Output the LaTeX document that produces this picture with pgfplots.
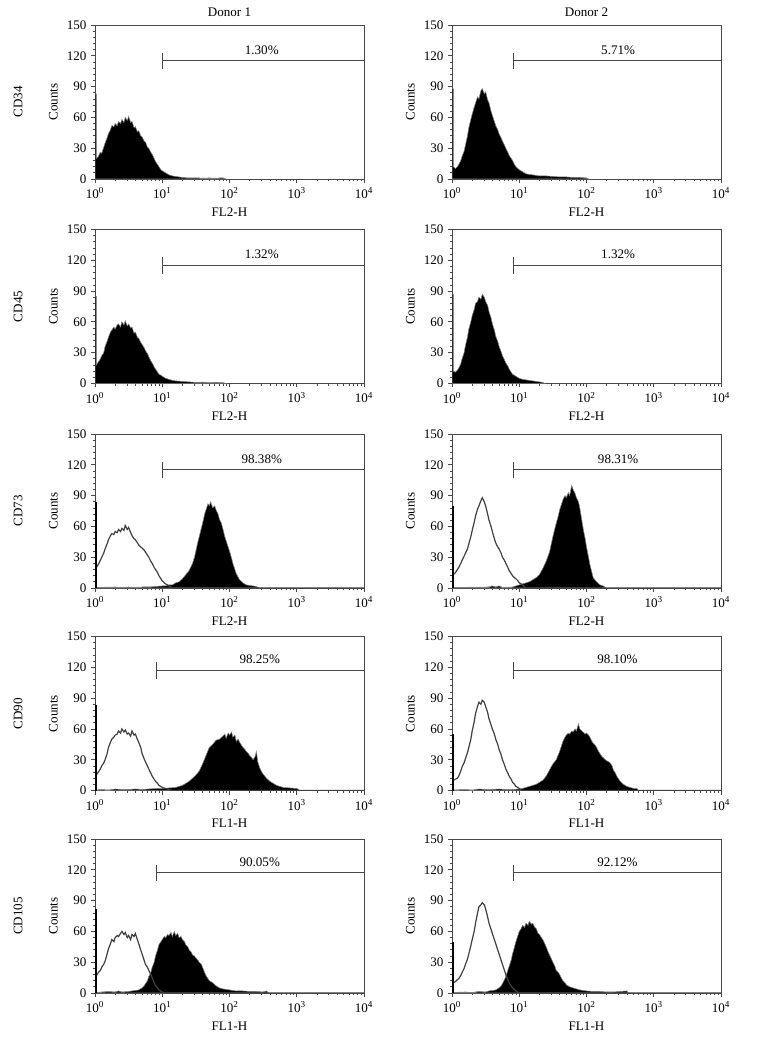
\documentclass[border=0pt]{standalone}
\usepackage{fontspec}
\setmainfont{Liberation Serif}
\usepackage{pgfplots}
\pgfplotsset{compat=1.18}

\definecolor{axisgray}{HTML}{474747}

\pgfplotsset{
  facs/.style={
    scale only axis, width=201.75pt, height=115.5pt,
    anchor=north west,
    clip mode=individual,
    xmin=0, xmax=4, ymin=0, ymax=150,
    xtick={0,1,2,3,4},
    xticklabels={10\textsuperscript{0},10\textsuperscript{1},10\textsuperscript{2},10\textsuperscript{3},10\textsuperscript{4}},
    minor xtick={0.301,0.477,0.602,0.699,0.778,0.845,0.903,0.954,
      1.301,1.477,1.602,1.699,1.778,1.845,1.903,1.954,
      2.301,2.477,2.602,2.699,2.778,2.845,2.903,2.954,
      3.301,3.477,3.602,3.699,3.778,3.845,3.903,3.954},
    ytick={0,30,60,90,120,150},
    minor y tick num=4,
    tick align=outside,
    tick pos=left,
    major tick length=3pt,
    minor tick length=1.8pt,
    every tick/.style={axisgray, line width=0.6pt},
    axis line style={axisgray, line width=0.7pt},
    ylabel=Counts,
    title style={yshift=-3pt},
    /pgf/number format/assume math mode=true,
  },
  hist/.style={fill=black, draw=gray, line width=0.4pt},
  iso/.style={draw=black!75, line width=0.9pt},
  spike/.style={draw=black, line width=1.3pt},
  gate/.style={draw=axisgray, line width=0.7pt},
}

\begin{document}
\fontsize{9.8}{11.5}\selectfont
\begin{tikzpicture}
\path (0,0) rectangle (567.75pt,-781.5pt);

% ---------- CD34 ----------
\begin{axis}[facs, at={(71.25pt,-18.75pt)}, title=Donor 1, xlabel=FL2-H]
\addplot[hist] coordinates {(0,0)(0,83)(0.02,83)(0.02,20)(0.05,22)(0.08,26)(0.1,25)(0.13,31)(0.15,35)(0.18,40)(0.2,44)(0.23,48)(0.25,52)(0.28,51)(0.3,54)(0.33,52)(0.35,56)(0.38,54)(0.4,58)(0.43,55)(0.45,60)(0.48,57)(0.5,61)(0.53,55)(0.55,56)(0.58,50)(0.6,51)(0.63,46)(0.65,47)(0.68,42)(0.7,41)(0.73,37)(0.75,36)(0.78,31)(0.8,30)(0.83,26)(0.85,24)(0.88,20)(0.9,17)(0.93,14)(0.95,12)(0.98,9)(1,8)(1.05,6)(1.1,4)(1.15,3)(1.2,2.5)(1.25,2)(1.3,1.5)(1.4,1)(1.5,1.2)(1.6,0.8)(1.7,1)(1.8,0.8)(1.9,1.2)(1.95,0)} \closedcycle;
\addplot[gate] coordinates {(1.01,115)(4,115)};
\addplot[gate] coordinates {(1.01,107)(1.01,123)};
\node[anchor=south] at (axis cs:2.48,117) {1.30\%};
\node[rotate=90] at (axis description cs:-0.286,0.5) {CD34};
\end{axis}

\begin{axis}[facs, at={(339pt,-18.75pt)}, title=Donor 2, xlabel=FL2-H]
\addplot[hist] coordinates {(0,0)(0,88)(0.02,88)(0.02,12)(0.05,10)(0.08,12)(0.1,14)(0.13,18)(0.15,22)(0.18,27)(0.2,33)(0.23,42)(0.25,50)(0.28,58)(0.3,63)(0.33,70)(0.35,74)(0.38,80)(0.4,78)(0.43,86)(0.45,88)(0.48,83)(0.5,85)(0.53,77)(0.55,74)(0.58,66)(0.6,62)(0.63,56)(0.65,52)(0.68,48)(0.7,44)(0.73,40)(0.75,37)(0.78,33)(0.8,30)(0.83,26)(0.85,23)(0.88,20)(0.9,18)(0.93,14)(0.95,12)(1,9)(1.05,7)(1.1,5)(1.15,4.5)(1.2,4)(1.3,3)(1.4,3)(1.5,2.5)(1.6,2)(1.7,2)(1.8,1.5)(1.9,1.5)(2,1)(2.03,0)} \closedcycle;
\addplot[gate] coordinates {(0.92,115)(4,115)};
\addplot[gate] coordinates {(0.92,107)(0.92,123)};
\node[anchor=south] at (axis cs:2.47,117) {5.71\%};
\end{axis}

% ---------- CD45 ----------
\begin{axis}[facs, at={(71.25pt,-172.1pt)}, xlabel=FL2-H]
\addplot[hist] coordinates {(0,0)(0,85)(0.02,85)(0.02,18)(0.05,21)(0.08,24)(0.1,27)(0.13,30)(0.15,36)(0.18,41)(0.2,45)(0.23,50)(0.25,52)(0.28,55)(0.3,53)(0.33,57)(0.35,58)(0.38,55)(0.4,60)(0.43,57)(0.45,61)(0.48,56)(0.5,58)(0.53,54)(0.55,55)(0.58,49)(0.6,50)(0.63,45)(0.65,44)(0.68,40)(0.7,38)(0.73,35)(0.75,32)(0.78,29)(0.8,26)(0.83,22)(0.85,20)(0.88,16)(0.9,14)(0.93,11)(0.95,9)(0.98,8)(1,7)(1.05,5)(1.1,4)(1.15,3)(1.2,2.5)(1.3,2)(1.4,1.5)(1.5,1)(1.6,1.2)(1.7,0.8)(1.8,1)(1.9,0.8)(1.95,0)} \closedcycle;
\addplot[gate] coordinates {(1.01,115)(4,115)};
\addplot[gate] coordinates {(1.01,107)(1.01,123)};
\node[anchor=south] at (axis cs:2.48,117) {1.32\%};
\node[rotate=90] at (axis description cs:-0.286,0.5) {CD45};
\end{axis}

\begin{axis}[facs, at={(339pt,-172.1pt)}, xlabel=FL2-H]
\addplot[hist] coordinates {(0,0)(0,87)(0.02,87)(0.02,12)(0.05,11)(0.08,13)(0.1,15)(0.13,19)(0.15,24)(0.18,30)(0.2,37)(0.23,45)(0.25,53)(0.28,60)(0.3,66)(0.33,72)(0.35,78)(0.38,80)(0.4,84)(0.43,82)(0.45,87)(0.48,84)(0.5,80)(0.53,76)(0.55,70)(0.58,64)(0.6,58)(0.63,52)(0.65,46)(0.68,41)(0.7,36)(0.73,31)(0.75,27)(0.78,23)(0.8,20)(0.83,17)(0.85,14)(0.88,11)(0.9,9)(0.95,7)(1,5)(1.05,4)(1.1,3.5)(1.15,3)(1.2,2.5)(1.25,2)(1.3,1.5)(1.35,1)(1.38,0)} \closedcycle;
\addplot[gate] coordinates {(0.92,115)(4,115)};
\addplot[gate] coordinates {(0.92,107)(0.92,123)};
\node[anchor=south] at (axis cs:2.47,117) {1.32\%};
\end{axis}

% ---------- CD73 ----------
\begin{axis}[facs, at={(71.25pt,-325.5pt)}, xlabel=FL2-H]
\addplot[hist] coordinates {(0,0.5)(0.3,1)(0.4,0.5)(0.5,1)(0.6,0.5)(0.7,1)(0.8,1)(0.9,1.5)(1,2)(1.05,2)(1.1,3)(1.15,3)(1.2,5)(1.25,6)(1.3,9)(1.35,13)(1.4,17)(1.45,24)(1.48,30)(1.5,36)(1.53,45)(1.55,50)(1.58,58)(1.6,63)(1.63,72)(1.65,76)(1.68,82)(1.7,80)(1.72,84)(1.75,78)(1.78,80)(1.8,76)(1.83,72)(1.85,67)(1.88,63)(1.9,58)(1.93,50)(1.95,46)(1.98,40)(2,36)(2.03,29)(2.05,24)(2.08,18)(2.1,14)(2.15,8)(2.2,5)(2.25,3)(2.3,2.5)(2.35,2)(2.4,1.5)(2.44,0)} \closedcycle;
\addplot[iso] coordinates {(0.02,20)(0.05,23)(0.08,27)(0.1,30)(0.13,34)(0.15,38)(0.18,43)(0.2,47)(0.23,51)(0.25,53)(0.28,52)(0.3,55)(0.33,54)(0.35,57)(0.38,55)(0.4,58)(0.43,56)(0.45,61)(0.48,57)(0.5,59)(0.53,54)(0.55,51)(0.58,48)(0.6,47)(0.63,44)(0.65,42)(0.68,40)(0.7,39)(0.73,37)(0.75,35)(0.78,32)(0.8,30)(0.83,26)(0.85,24)(0.88,20)(0.9,18)(0.93,15)(0.95,12)(0.98,9)(1,7)(1.03,5)(1.05,4)(1.08,3)(1.1,2)(1.13,1)(1.15,0)(4,0)};
\addplot[spike] coordinates {(0.015,0)(0.015,84)};
\addplot[gate] coordinates {(1.01,115)(4,115)};
\addplot[gate] coordinates {(1.01,107)(1.01,123)};
\node[anchor=south] at (axis cs:2.48,117) {98.38\%};
\node[rotate=90] at (axis description cs:-0.286,0.5) {CD73};
\end{axis}

\begin{axis}[facs, at={(339pt,-325.5pt)}, xlabel=FL2-H]
\addplot[hist] coordinates {(0,0.5)(0.55,1)(0.6,2)(0.65,1)(0.7,2)(0.75,0.5)(0.9,1)(0.95,2)(1,3)(1.05,4)(1.1,5)(1.15,6)(1.2,8)(1.25,10)(1.3,13)(1.35,19)(1.4,26)(1.45,35)(1.48,44)(1.5,50)(1.53,58)(1.55,63)(1.58,70)(1.6,76)(1.63,82)(1.65,86)(1.68,90)(1.7,88)(1.73,93)(1.75,90)(1.78,100)(1.8,96)(1.83,92)(1.85,88)(1.88,84)(1.9,78)(1.93,66)(1.95,58)(1.98,48)(2,40)(2.03,30)(2.05,23)(2.08,15)(2.1,10)(2.15,6)(2.2,3)(2.25,2)(2.29,0)} \closedcycle;
\addplot[iso] coordinates {(0.02,13)(0.05,15)(0.08,18)(0.1,20)(0.13,24)(0.15,27)(0.18,31)(0.2,34)(0.23,38)(0.25,43)(0.28,50)(0.3,56)(0.33,64)(0.35,70)(0.38,77)(0.4,80)(0.43,85)(0.45,88)(0.48,84)(0.5,80)(0.53,72)(0.55,66)(0.58,60)(0.6,55)(0.63,48)(0.65,44)(0.68,40)(0.7,38)(0.73,34)(0.75,30)(0.78,27)(0.8,24)(0.83,20)(0.85,17)(0.88,14)(0.9,12)(0.93,10)(0.95,9)(0.98,7)(1,5)(1.03,4)(1.05,3)(1.08,1)(1.1,0)(4,0)};
\addplot[spike] coordinates {(0.015,0)(0.015,80)};
\addplot[gate] coordinates {(0.92,115)(4,115)};
\addplot[gate] coordinates {(0.92,107)(0.92,123)};
\node[anchor=south] at (axis cs:2.47,117) {98.31\%};
\end{axis}

% ---------- CD90 ----------
\begin{axis}[facs, at={(71.25pt,-477.4pt)}, xlabel=FL1-H]
\addplot[hist] coordinates {(0,0.5)(0.1,1)(0.2,0.5)(0.3,1.5)(0.4,1)(0.5,1)(0.6,1.5)(0.7,1)(0.8,1.5)(0.9,2)(1,2)(1.1,2.5)(1.2,3)(1.25,4)(1.3,5)(1.35,7)(1.4,9)(1.45,12)(1.5,15)(1.55,19)(1.6,26)(1.65,34)(1.7,42)(1.75,45)(1.8,49)(1.85,50)(1.9,53)(1.93,55)(1.95,51)(1.98,56)(2,54)(2.03,57)(2.05,52)(2.08,54)(2.1,48)(2.13,50)(2.15,47)(2.18,44)(2.2,42)(2.23,40)(2.25,38)(2.28,36)(2.3,34)(2.33,32)(2.35,30)(2.38,33)(2.4,38)(2.42,28)(2.45,22)(2.48,18)(2.5,16)(2.55,12)(2.6,9)(2.65,7)(2.7,5)(2.8,3)(2.9,2.5)(3,2)(3.05,0)} \closedcycle;
\addplot[iso] coordinates {(0.02,15)(0.05,18)(0.08,21)(0.1,24)(0.13,27)(0.15,30)(0.18,36)(0.2,42)(0.23,47)(0.25,50)(0.28,52)(0.3,54)(0.33,55)(0.35,58)(0.38,56)(0.4,60)(0.43,57)(0.45,59)(0.48,55)(0.5,56)(0.53,53)(0.55,58)(0.58,54)(0.6,55)(0.63,50)(0.65,47)(0.68,42)(0.7,36)(0.73,31)(0.75,28)(0.78,24)(0.8,21)(0.83,17)(0.85,14)(0.88,11)(0.9,9)(0.93,7)(0.95,5)(0.98,4)(1,3)(1.05,2)(1.1,1)(1.15,0)(4,0)};
\addplot[spike] coordinates {(0.015,0)(0.015,83)};
\addplot[gate] coordinates {(0.92,117)(4,117)};
\addplot[gate] coordinates {(0.92,109)(0.92,125)};
\node[anchor=south] at (axis cs:2.45,119) {98.25\%};
\node[rotate=90] at (axis description cs:-0.286,0.5) {CD90};
\end{axis}

\begin{axis}[facs, at={(339pt,-477.4pt)}, xlabel=FL1-H]
\addplot[hist] coordinates {(0,0.5)(0.2,1)(0.3,0.5)(0.4,1.5)(0.5,1)(0.6,1)(0.7,1.5)(0.8,1)(0.9,1)(1,1.5)(1.05,2)(1.1,3)(1.15,4)(1.2,5)(1.25,6)(1.3,8)(1.35,10)(1.4,14)(1.45,20)(1.5,26)(1.55,30)(1.6,38)(1.63,44)(1.65,48)(1.68,52)(1.7,54)(1.73,56)(1.75,55)(1.78,58)(1.8,57)(1.83,60)(1.85,58)(1.88,65)(1.9,60)(1.93,58)(1.95,57)(1.98,55)(2,56)(2.03,54)(2.05,52)(2.08,48)(2.1,46)(2.13,44)(2.15,42)(2.18,38)(2.2,36)(2.23,33)(2.25,32)(2.28,30)(2.3,29)(2.33,28)(2.35,27)(2.38,24)(2.4,20)(2.43,17)(2.45,14)(2.5,9)(2.55,6)(2.6,4)(2.65,3)(2.7,2)(2.75,2)(2.77,0)} \closedcycle;
\addplot[iso] coordinates {(0.02,10)(0.05,11)(0.08,12)(0.1,14)(0.13,19)(0.15,23)(0.18,27)(0.2,31)(0.23,37)(0.25,42)(0.28,50)(0.3,58)(0.33,67)(0.35,75)(0.38,82)(0.4,86)(0.43,84)(0.45,88)(0.48,86)(0.5,82)(0.53,76)(0.55,70)(0.58,64)(0.6,60)(0.63,55)(0.65,50)(0.68,45)(0.7,40)(0.73,35)(0.75,30)(0.78,25)(0.8,21)(0.83,17)(0.85,14)(0.88,11)(0.9,8)(0.93,6)(0.95,4)(0.98,3)(1,2)(1.04,0)(4,0)};
\addplot[spike] coordinates {(0.015,0)(0.015,55)};
\addplot[gate] coordinates {(0.92,117)(4,117)};
\addplot[gate] coordinates {(0.92,109)(0.92,125)};
\node[anchor=south] at (axis cs:2.46,119) {98.10\%};
\end{axis}

% ---------- CD105 ----------
\begin{axis}[facs, at={(71.25pt,-629.25pt)}, xlabel=FL1-H]
\addplot[hist] coordinates {(0,0.5)(0.1,1)(0.2,1.5)(0.3,1)(0.35,2)(0.4,1)(0.5,1.5)(0.55,2)(0.6,2.5)(0.65,3)(0.7,5)(0.73,7)(0.75,9)(0.78,12)(0.8,16)(0.83,20)(0.85,25)(0.88,30)(0.9,36)(0.93,42)(0.95,47)(0.98,50)(1,52)(1.03,55)(1.05,54)(1.08,57)(1.1,56)(1.13,59)(1.15,55)(1.18,60)(1.2,56)(1.23,58)(1.25,54)(1.28,55)(1.3,52)(1.33,50)(1.35,47)(1.38,45)(1.4,42)(1.43,40)(1.45,37)(1.48,36)(1.5,34)(1.53,32)(1.55,30)(1.58,28)(1.6,25)(1.63,20)(1.65,17)(1.68,14)(1.7,12)(1.75,10)(1.8,7)(1.85,5)(1.9,4)(2,3)(2.1,2)(2.2,2)(2.3,1.5)(2.4,1.5)(2.5,1)(2.55,2)(2.58,0)} \closedcycle;
\addplot[iso] coordinates {(0.02,17)(0.05,20)(0.08,22)(0.1,25)(0.13,28)(0.15,31)(0.18,38)(0.2,43)(0.23,48)(0.25,52)(0.28,50)(0.3,54)(0.33,56)(0.35,55)(0.38,58)(0.4,60)(0.43,57)(0.45,59)(0.48,54)(0.5,56)(0.53,52)(0.55,57)(0.58,55)(0.6,58)(0.63,52)(0.65,48)(0.68,42)(0.7,38)(0.73,32)(0.75,28)(0.78,25)(0.8,22)(0.83,18)(0.85,15)(0.88,10)(0.9,7)(0.93,5)(0.95,3)(1,1)(1.03,0)(4,0)};
\addplot[spike] coordinates {(0.015,0)(0.015,82)};
\addplot[gate] coordinates {(0.92,117)(4,117)};
\addplot[gate] coordinates {(0.92,109)(0.92,125)};
\node[anchor=south] at (axis cs:2.45,119) {90.05\%};
\node[rotate=90] at (axis description cs:-0.286,0.5) {CD105};
\end{axis}

\begin{axis}[facs, at={(339pt,-629.25pt)}, xlabel=FL1-H]
\addplot[hist] coordinates {(0,0.5)(0.2,1)(0.3,0.5)(0.4,1.5)(0.5,1)(0.55,2)(0.6,2.5)(0.65,3)(0.7,5)(0.73,7)(0.75,9)(0.78,13)(0.8,16)(0.83,22)(0.85,26)(0.88,32)(0.9,38)(0.93,45)(0.95,50)(0.98,56)(1,60)(1.03,63)(1.05,66)(1.08,64)(1.1,68)(1.13,66)(1.15,70)(1.18,67)(1.2,68)(1.23,64)(1.25,63)(1.28,58)(1.3,57)(1.33,54)(1.35,52)(1.38,48)(1.4,45)(1.43,40)(1.45,37)(1.48,33)(1.5,30)(1.53,26)(1.55,22)(1.58,20)(1.6,18)(1.63,14)(1.65,12)(1.68,10)(1.7,8)(1.75,6)(1.8,5)(1.85,4)(1.9,3)(2,2)(2.1,1.5)(2.2,1.5)(2.3,1)(2.4,1)(2.5,1.5)(2.6,2)(2.62,0)} \closedcycle;
\addplot[iso] coordinates {(0.02,10)(0.05,11)(0.08,13)(0.1,14)(0.13,17)(0.15,20)(0.18,24)(0.2,28)(0.23,33)(0.25,38)(0.28,46)(0.3,52)(0.33,60)(0.35,68)(0.38,78)(0.4,84)(0.43,86)(0.45,88)(0.48,86)(0.5,82)(0.53,74)(0.55,68)(0.58,62)(0.6,58)(0.63,52)(0.65,48)(0.68,42)(0.7,38)(0.73,32)(0.75,28)(0.78,22)(0.8,18)(0.83,13)(0.85,10)(0.88,7)(0.9,5)(0.95,2)(1,0)(4,0)};
\addplot[spike] coordinates {(0.015,0)(0.015,50)};
\addplot[gate] coordinates {(0.92,117)(4,117)};
\addplot[gate] coordinates {(0.92,109)(0.92,125)};
\node[anchor=south] at (axis cs:2.46,119) {92.12\%};
\end{axis}
\end{tikzpicture}
\end{document}
